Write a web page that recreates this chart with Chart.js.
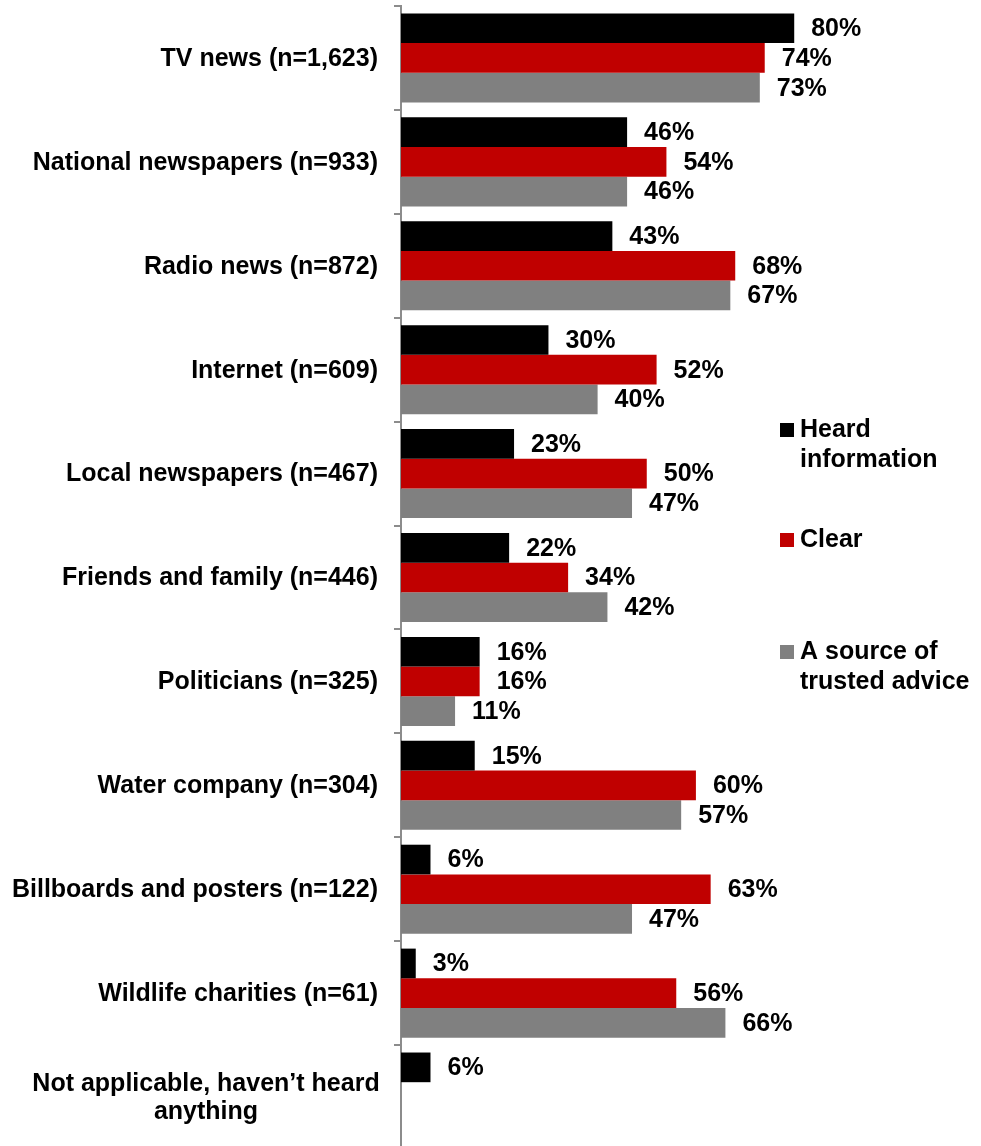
<!DOCTYPE html>
<html>
<head>
<meta charset="utf-8">
<script src="https://cdn.jsdelivr.net/npm/chart.js@4.4.1/dist/chart.umd.min.js"></script>
<style>
  html, body { margin: 0; padding: 0; background: #fff; overflow: hidden; }
  #wrap { position: relative; width: 981px; height: 1152px; }
</style>
</head>
<body>
<div id="wrap"><canvas id="sourcesChart"></canvas></div>
<script>
// Information sources: heard / clear / trusted advice (%)

const categories = [
  ['TV news (n=1,623)'],
  ['National newspapers (n=933)'],
  ['Radio news (n=872)'],
  ['Internet (n=609)'],
  ['Local newspapers (n=467)'],
  ['Friends and family (n=446)'],
  ['Politicians (n=325)'],
  ['Water company (n=304)'],
  ['Billboards and posters (n=122)'],
  ['Wildlife charities (n=61)'],
  ['Not applicable, haven\u2019t heard', 'anything']
];

const heardInfo = [80, 46, 43, 30, 23, 22, 16, 15, 6, 3, 6];
const clearInfo = [74, 54, 68, 52, 50, 34, 16, 60, 63, 56, null];
const trustedAdvice = [73, 46, 67, 40, 47, 42, 11, 57, 47, 66, null];

const legendLines = [
  ['Heard', 'information'],
  ['Clear'],
  ['A source of', 'trusted advice']
];

const FONT = 'bold 25px "Liberation Sans", Arial, sans-serif';
const black = '#000000';
const red = '#C00000';
const gray = '#808080';

// category names drawn left of the axis, centred on each band
const categoryLabels = {
  id: 'categoryLabels',
  afterDraw(chart) {
    const ctx = chart.ctx;
    const yScale = chart.scales.y;
    ctx.save();
    ctx.font = FONT;
    ctx.fillStyle = '#000';
    ctx.textBaseline = 'middle';
    categories.forEach((lines, i) => {
      const cy = yScale.getPixelForValue(i) + 1;
      const lh = 28;
      const top = cy - (lines.length - 1) * lh / 2;
      if (lines.length === 1) {
        ctx.textAlign = 'right';
        ctx.fillText(lines[0], 378, cy);
      } else {
        ctx.textAlign = 'center';
        lines.forEach((l, k) => ctx.fillText(l, 206, top + k * lh));
      }
    });
    ctx.restore();
  }
};

// value labels just past the end of each bar
const valueLabels = {
  id: 'valueLabels',
  afterDatasetsDraw(chart) {
    const ctx = chart.ctx;
    ctx.save();
    ctx.font = FONT;
    ctx.fillStyle = '#000';
    ctx.textAlign = 'left';
    ctx.textBaseline = 'middle';
    chart.data.datasets.forEach((ds, di) => {
      const meta = chart.getDatasetMeta(di);
      meta.data.forEach((bar, i) => {
        const v = ds.data[i];
        if (v === null || v === undefined) return;
        ctx.fillText(v + '%', bar.x + 17, bar.y + 1);
      });
    });
    ctx.restore();
  }
};

// legend stacked on the right with wrapped text
const sideLegend = {
  id: 'sideLegend',
  afterDraw(chart) {
    const ctx = chart.ctx;
    const squareY = [423, 533, 645];
    ctx.save();
    ctx.font = FONT;
    ctx.textAlign = 'left';
    ctx.textBaseline = 'alphabetic';
    chart.data.datasets.forEach((ds, i) => {
      const y = squareY[i];
      ctx.fillStyle = ds.backgroundColor;
      ctx.fillRect(780, y, 14, 14);
      ctx.fillStyle = '#000';
      legendLines[i].forEach((l, k) => ctx.fillText(l, 800, y + 14 + k * 30));
    });
    ctx.restore();
  }
};

new Chart(document.getElementById('sourcesChart'), {
  type: 'bar',
  data: {
    labels: categories,
    datasets: [
      { label: 'Heard information', data: heardInfo, backgroundColor: black },
      { label: 'Clear', data: clearInfo, backgroundColor: red },
      { label: 'A source of trusted advice', data: trustedAdvice, backgroundColor: gray }
    ]
  },
  options: {
    indexAxis: 'y',
    responsive: true,
    maintainAspectRatio: false,
    animation: false,
    datasets: {
      bar: { barPercentage: 1, categoryPercentage: 0.857, borderWidth: 0 }
    },
    layout: { padding: { top: 6, bottom: 3, left: 0, right: 0 } },
    plugins: {
      legend: { display: false },
      tooltip: { enabled: false }
    },
    scales: {
      x: { display: false, min: 0, max: 118 },
      y: {
        ticks: { display: false },
        grid: { drawOnChartArea: false, offset: true, color: '#8c8c8c', tickLength: 7, lineWidth: 2 },
        border: { color: '#8c8c8c', width: 2 },
        afterFit(scale) { scale.width = 401; }
      }
    }
  },
  plugins: [categoryLabels, valueLabels, sideLegend]
});
</script>
</body>
</html>
